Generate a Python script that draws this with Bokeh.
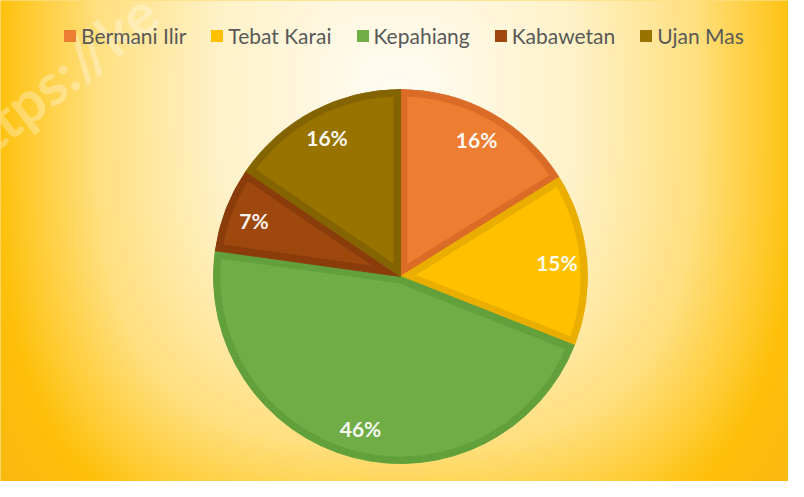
import numpy as np
from bokeh.plotting import figure
from bokeh.models import ColumnDataSource, Range1d, Legend, LegendItem
from bokeh.core.properties import value
from bokeh.embed import file_html
from bokeh.resources import INLINE

# ---- data ----
categories = ["Bermani Ilir", "Tebat Karai", "Kepahiang", "Kabawetan", "Ujan Mas"]
shares = [16.1, 14.9, 46.2, 7.3, 15.5]
fill_colors = ["#ED7D31", "#FFC000", "#70AD47", "#9E480E", "#997300"]
edge_colors = ["#DB6C27", "#EAAE00", "#62A03B", "#8A3D0B", "#846400"]

# ---- layout ----
W, H = 788, 481
CX, CY = 400, 205
R = 187
B = 7

p = figure(width=W, height=H, x_range=Range1d(0, W), y_range=Range1d(0, H),
           output_backend="svg", toolbar_location=None, min_border=0)
p.axis.visible = False
p.grid.visible = False
p.outline_line_color = None
p.background_fill_color = "#FFC000"
p.border_fill_color = "#FFC000"

# ---- background radial gradient ----
xs = np.arange(W) + 0.5
ys = np.arange(H) + 0.5  # from top
X, Y = np.meshgrid(xs, ys)
gx, gy = 396, 100
dx = np.abs(X - gx) / 400.0
dy = np.abs(Y - gy) / 460.0
t = (dx ** 3 + dy ** 3) ** (1 / 3)
st = [0.0, 0.45, 0.75, 0.9, 1.0, 1.25]
rr = [255, 255, 255, 255, 254, 247]
gg = [253, 242, 224, 206, 192, 180]
bb = [246, 200, 128, 58, 10, 22]
rgba = np.zeros((H, W, 4), dtype=np.uint8)
rgba[..., 0] = np.interp(t, st, rr)
rgba[..., 1] = np.interp(t, st, gg)
rgba[..., 2] = np.interp(t, st, bb)
rgba[..., 3] = 255
img = np.flipud(rgba).copy().view(dtype=np.uint32).reshape((H, W))
p.image_rgba(image=[img], x=0, y=0, dw=W, dh=H)

# faint watermark
p.text(x=[-46], y=[H - 156], text=["https://ke"], angle=0.66,
       text_font=value("Lato"), text_font_style="bold", text_font_size="58px",
       text_color="white", text_alpha=0.3, text_baseline="middle", text_align="left")

# ---- pie geometry from data ----
frac = np.array(shares) / np.sum(shares)
cum = np.concatenate([[0.0], np.cumsum(frac)])
start = np.pi / 2 - cum[:-1] * 2 * np.pi
end = np.pi / 2 - cum[1:] * 2 * np.pi
mid = (start + end) / 2

src = ColumnDataSource(dict(cat=categories, start=start, end=end,
                            edge=edge_colors, fill=fill_colors))
p.wedge(x=CX, y=CY, radius=R, start_angle="start", end_angle="end",
        direction="clock", fill_color="edge", line_color="edge", line_width=1,
        source=src)

# inset fill of each slice (border of darker shade inside the slice)
Ri = R - B
delta = np.arcsin(B / Ri)
pxs, pys = [], []
for a_hi, a_lo in zip(start, end):
    theta = a_hi - a_lo
    m = (a_hi + a_lo) / 2
    d = B / np.sin(theta / 2)
    ax_, ay_ = CX + d * np.cos(m), CY + d * np.sin(m)
    arc = np.linspace(a_hi - delta, a_lo + delta, 120)
    pxs.append(np.concatenate([[ax_], CX + Ri * np.cos(arc)]))
    pys.append(np.concatenate([[ay_], CY + Ri * np.sin(arc)]))
src2 = ColumnDataSource(dict(cat=categories, xs=pxs, ys=pys, fill=fill_colors))
inner = p.patches(xs="xs", ys="ys", fill_color="fill", line_color=None, source=src2)

# ---- labels ----
lr = 0.84 * R
labels = ["%d%%" % int(v + 0.5) for v in shares]
src3 = ColumnDataSource(dict(x=CX + lr * np.cos(mid), y=CY + lr * np.sin(mid), text=labels))
p.text(x="x", y="y", text="text", source=src3, text_align="center", text_baseline="middle",
       text_color="#FFFFFF", text_alpha=0.95, text_font=value("Lato"),
       text_font_style="bold", text_font_size="21px")

# ---- legend ----
items = [LegendItem(label=c, renderers=[inner], index=i) for i, c in enumerate(categories)]
legend = Legend(items=items, orientation="horizontal", location=(62, 433),
                label_text_font="Lato", label_text_font_size="21px",
                label_text_color="#595959", glyph_width=15, glyph_height=15,
                label_standoff=4, spacing=23, padding=0, margin=0,
                background_fill_alpha=0, border_line_color=None)
p.add_layout(legend)

open("out.html", "w").write(file_html(p, INLINE))
